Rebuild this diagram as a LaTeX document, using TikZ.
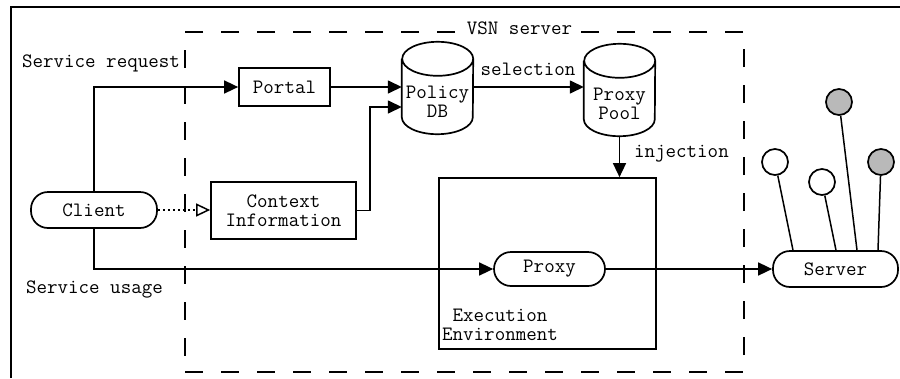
\documentclass[tikz,border=0pt]{standalone}
\usepackage{fontspec}
\usetikzlibrary{arrows.meta,calc}
\begin{document}
\begin{tikzpicture}[x=1pt,y=-1pt,
  every node/.style={font=\ttfamily\fontsize{20.4}{18.8}\selectfont, inner sep=0pt},
  ln/.style={line width=1.5pt},
  box/.style={draw, line width=1.7pt, rectangle},
  pill/.style={draw, line width=1.7pt, rectangle, rounded corners=17pt},
  arr/.style={ln, -{Triangle[length=14pt,width=13pt]}},
  oarr/.style={ln, dash pattern=on 2.5pt off 2.5pt, -{Triangle[open,length=14pt,width=13pt]}},
  cylbox/.style={minimum width=71pt, minimum height=92pt},
  lolly/.style={draw, circle, line width=1.7pt, minimum size=26pt},
  regionbox/.style={draw, line width=2pt, dash pattern=on 18pt off 18pt},
]
\useasboundingbox (0,0) rectangle (900,378);

% outer frame (top and left edges only)
\draw[line width=2.5pt] (11,378) -- (11,7) -- (900,7);

% VSN server region
\node[regionbox, minimum width=559pt, minimum height=340pt] (vsnbox) at (464.5,202) {};
\node[fill=white, inner xsep=5pt, inner ysep=2pt] (vsn) at (519.5,28) {VSN server};

% boxes
\node[box, minimum width=91pt, minimum height=38pt] (portal) at (284.5,87) {Portal};
\node[box, minimum width=145pt, minimum height=57pt, align=center] (ctx) at (283.5,210.5) {Context\\Information};
\node[pill, minimum width=126pt, minimum height=36pt] (client) at (94,210) {Client};
\node[pill, minimum width=111pt, minimum height=34pt] (proxy) at (549.5,269) {Proxy};
\node[pill, minimum width=125pt, minimum height=36pt] (server) at (835.5,269) {Server};
\node[box, minimum width=217pt, minimum height=171pt] (exec) at (547.5,263.5) {};
\node[align=center] (exectext) at (500,325) {Execution\\Environment};

% cylinders
\node[cylbox] (pdb) at (437.5,88) {};
\node[align=center] (pdbtext) at (437.5,102) {Policy\\DB};
\node[cylbox] (pool) at (619.5,90) {};
\node[align=center] (pooltext) at (619.5,103.5) {Proxy\\Pool};
\foreach \c in {pdb,pool}{
  \draw[line width=1.7pt] ([yshift=-17pt]\c.north west) -- ([yshift=17pt]\c.south west)
    arc[start angle=180,end angle=360,x radius=35.5pt,y radius=17pt]
    -- ([yshift=-17pt]\c.north east)
    arc[start angle=0,end angle=360,x radius=35.5pt,y radius=17pt];
}

% side labels
\node[anchor=west] (sreq) at (22,63) {Service request};
\node[anchor=west] (susage) at (26,289) {Service usage};
\node (sel) at (528,69) {selection};
\node[anchor=west] (inj) at (634,154) {injection};

% connectors
\draw[arr] (client.north) |- (portal.west);
\draw[arr] (portal.east) -- (pdb.west |- portal.east);
\coordinate (jn) at (370,107);
\draw[arr] (ctx.east) -| (jn) -- (pdb.west |- jn);
\draw[oarr] (client.east) -- (ctx.west |- client.east);
\draw[arr] (pdb.east |- portal.east) -- (pool.west |- portal.east);
\draw[arr] (pool.south) -- (pool.south |- exec.north);
\draw[arr] (client.south) |- (proxy.west);
\draw[arr] (proxy.east) -- (server.west);

% interface lollipops on the server
\node[lolly] (l1) at (775,162) {};
\node[lolly] (l2) at (822,182) {};
\node[lolly, fill=gray!55] (l3) at (839,102) {};
\node[lolly, fill=gray!55] (l4) at (881,162) {};
\draw[ln] (l1) -- (793,0 |- server.north);
\draw[ln] (l2) -- (836,0 |- server.north);
\draw[ln] (l3) -- (857,0 |- server.north);
\draw[ln] (l4) -- (878,0 |- server.north);
\end{tikzpicture}
\end{document}
